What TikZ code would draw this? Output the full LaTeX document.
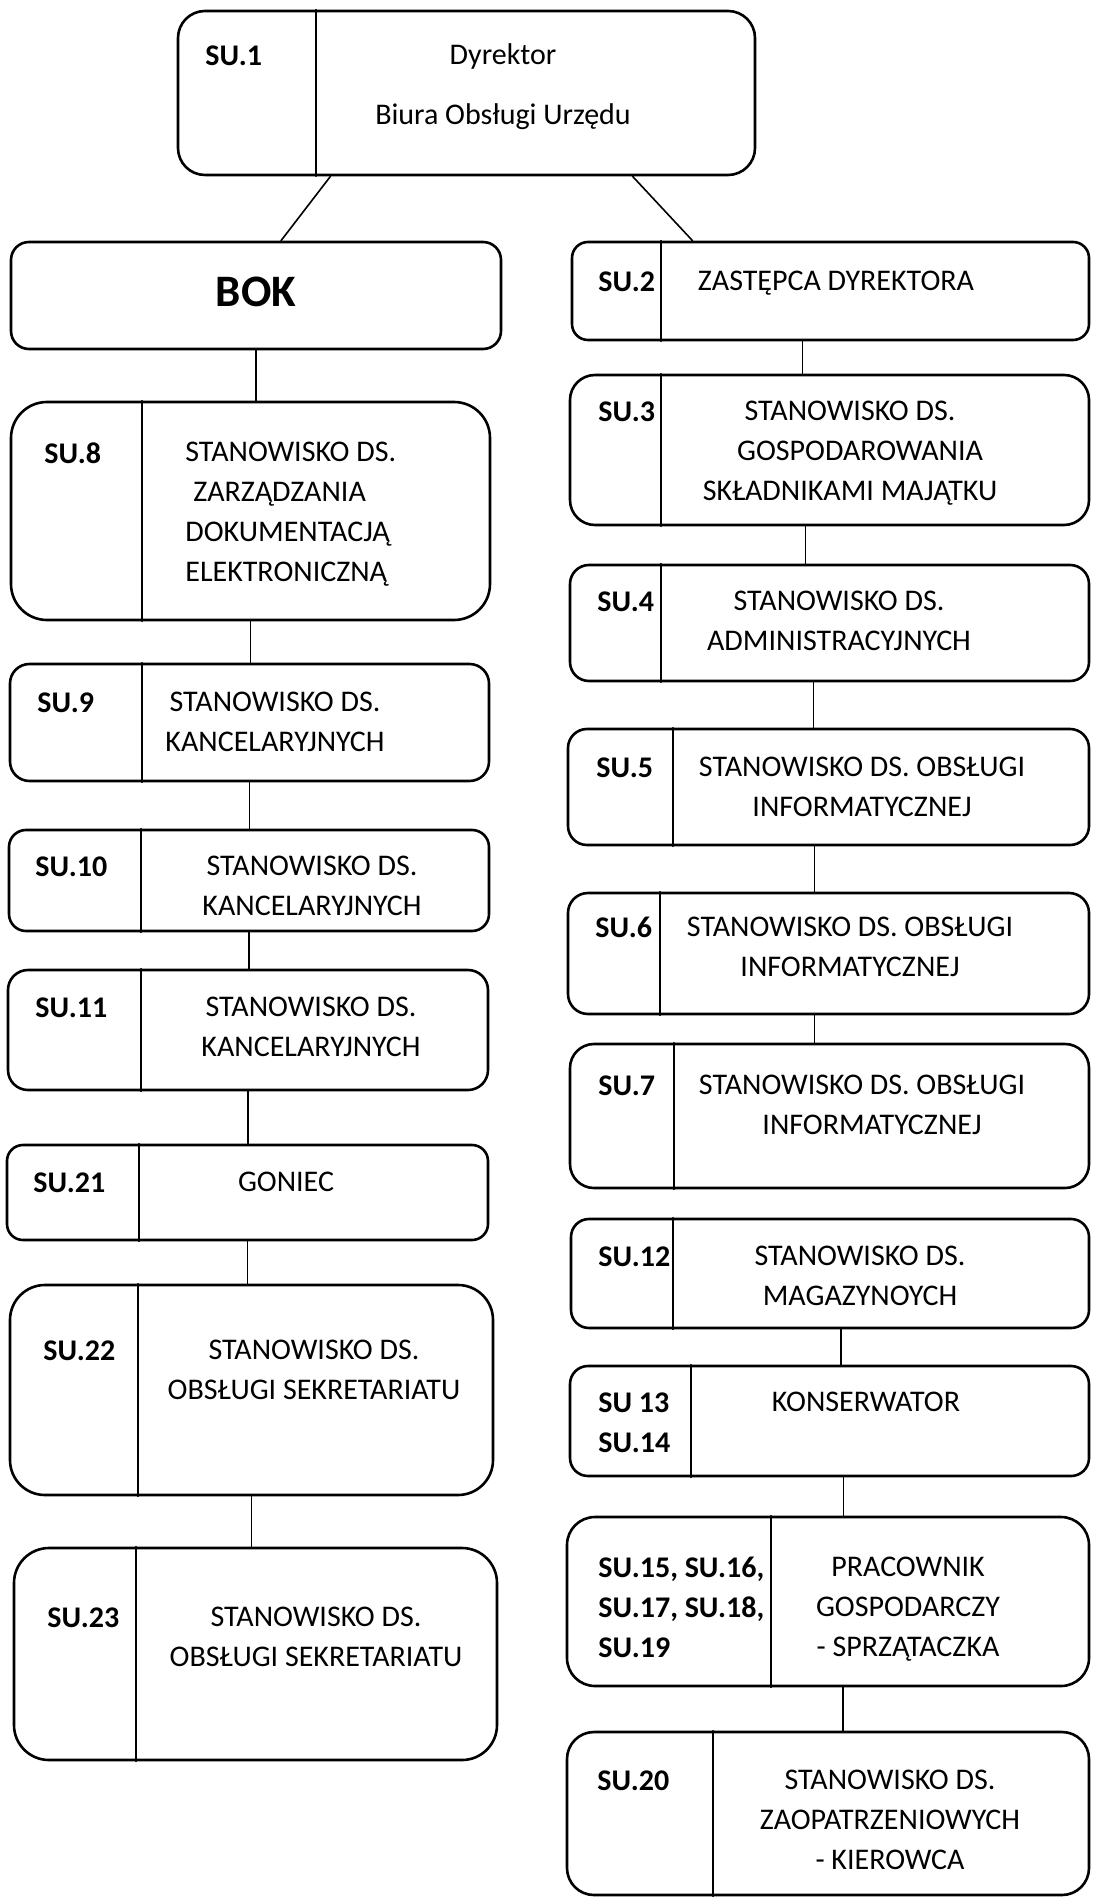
\documentclass[tikz,border=0pt]{standalone}
\usepackage{fontspec}
\setmainfont{Carlito}
\usetikzlibrary{fit}

\begin{document}
\begin{tikzpicture}[x=0.5pt, y=-0.5pt, line cap=round, line join=round,
  box/.style={draw, line width=1.3pt, inner sep=0pt},
  divider/.style={line width=0.8pt},
  link/.style={line width=0.8pt},
  lbl/.style={anchor=north west, inner sep=0pt, align=left, font=\bfseries\fontsize{15}{20}\selectfont},
  txt/.style={anchor=north, inner sep=0pt, align=center, font=\fontsize{15}{20}\selectfont}]

  \fill[white] (0,0) rectangle (1093,1898);
  \useasboundingbox (0,0) rectangle (1093,1898);

  %--- director ------------------------------------------------------------
  \node[box, rounded corners=13.5pt, fit={(178,11) (755,175)}] (su1) {};
  \draw[divider] ([xshift=69.5pt]su1.north west) -- ([xshift=69.5pt]su1.south west);
  \node[lbl] (su1l) at (205,45) {SU.1};
  \node[txt, font=\fontsize{15}{30}\selectfont] (su1t) at (503,43) {Dyrektor\\Biura Obsługi Urzędu};

  %--- left column ---------------------------------------------------------
  \node[box, rounded corners=9pt, fit={(11,242) (501,349)}] (bok) {};
  \node[inner sep=0pt, font=\bfseries\fontsize{22.5}{27}\selectfont] (bokt) at (256,292) {BOK};

  \node[box, rounded corners=18pt, fit={(11,402) (490,620)}] (su8) {};
  \draw[divider] ([xshift=66pt]su8.north west) -- ([xshift=66pt]su8.south west);
  \node[lbl] (su8l) at (44,442) {SU.8};
  \node[txt, anchor=north west, align=left] (su8t) at (185,442)
    {STANOWISKO DS.\\\hspace*{4pt}ZARZĄDZANIA\\DOKUMENTACJĄ\\ELEKTRONICZNĄ};

  \node[box, rounded corners=9.75pt, fit={(10,664) (489,781)}] (su9) {};
  \draw[divider] ([xshift=66.5pt]su9.north west) -- ([xshift=66.5pt]su9.south west);
  \node[lbl] (su9l) at (37,692) {SU.9};
  \node[txt] (su9t) at (275,692) {STANOWISKO DS.\\KANCELARYJNYCH};

  \node[box, rounded corners=8.5pt, fit={(9,830) (489,931)}] (su10) {};
  \draw[divider] ([xshift=66.5pt]su10.north west) -- ([xshift=66.5pt]su10.south west);
  \node[lbl] (su10l) at (35,856) {SU.10};
  \node[txt] (su10t) at (312,856) {STANOWISKO DS.\\KANCELARYJNYCH};

  \node[box, rounded corners=10pt, fit={(8,970) (488,1090)}] (su11) {};
  \draw[divider] ([xshift=67pt]su11.north west) -- ([xshift=67pt]su11.south west);
  \node[lbl] (su11l) at (35,997) {SU.11};
  \node[txt] (su11t) at (311,997) {STANOWISKO DS.\\KANCELARYJNYCH};

  \node[box, rounded corners=8pt, fit={(7,1145) (488,1240)}] (su21) {};
  \draw[divider] ([xshift=66.5pt]su21.north west) -- ([xshift=66.5pt]su21.south west);
  \node[lbl] (su21l) at (33,1172) {SU.21};
  \node[txt] (su21t) at (286,1172) {GONIEC};

  \node[box, rounded corners=17.5pt, fit={(10,1285) (493,1495)}] (su22) {};
  \draw[divider] ([xshift=64.5pt]su22.north west) -- ([xshift=64.5pt]su22.south west);
  \node[lbl] (su22l) at (43,1340) {SU.22};
  \node[txt] (su22t) at (314,1340) {STANOWISKO DS.\\OBSŁUGI SEKRETARIATU};

  \node[box, rounded corners=17.5pt, fit={(14,1548) (497,1760)}] (su23) {};
  \draw[divider] ([xshift=61.5pt]su23.north west) -- ([xshift=61.5pt]su23.south west);
  \node[lbl] (su23l) at (47,1607) {SU.23};
  \node[txt] (su23t) at (316,1607) {STANOWISKO DS.\\OBSŁUGI SEKRETARIATU};

  %--- right column --------------------------------------------------------
  \node[box, rounded corners=8pt, fit={(572,242) (1089,340)}] (su2) {};
  \draw[divider] ([xshift=45pt]su2.north west) -- ([xshift=45pt]su2.south west);
  \node[lbl] (su2l) at (598,271) {SU.2};
  \node[txt] (su2t) at (836,271) {ZASTĘPCA DYREKTORA};

  \node[box, rounded corners=12.5pt, fit={(570,375) (1089,525)}] (su3) {};
  \draw[divider] ([xshift=46pt]su3.north west) -- ([xshift=46pt]su3.south west);
  \node[lbl] (su3l) at (598,401) {SU.3};
  \node[txt] (su3t) at (850,401) {STANOWISKO DS.\\\hspace*{10pt}GOSPODAROWANIA\\SKŁADNIKAMI MAJĄTKU};

  \node[box, rounded corners=9.5pt, fit={(570,565) (1089,681)}] (su4) {};
  \draw[divider] ([xshift=46pt]su4.north west) -- ([xshift=46pt]su4.south west);
  \node[lbl] (su4l) at (597,591) {SU.4};
  \node[txt] (su4t) at (839,591) {STANOWISKO DS.\\ADMINISTRACYJNYCH};

  \node[box, rounded corners=9.5pt, fit={(568,729) (1089,845)}] (su5) {};
  \draw[divider] ([xshift=53pt]su5.north west) -- ([xshift=53pt]su5.south west);
  \node[lbl] (su5l) at (596,757) {SU.5};
  \node[txt] (su5t) at (862,757) {STANOWISKO DS. OBSŁUGI\\INFORMATYCZNEJ};

  \node[box, rounded corners=10pt, fit={(568,893) (1089,1014)}] (su6) {};
  \draw[divider] ([xshift=46.5pt]su6.north west) -- ([xshift=46.5pt]su6.south west);
  \node[lbl] (su6l) at (595,917) {SU.6};
  \node[txt] (su6t) at (850,917) {STANOWISKO DS. OBSŁUGI\\INFORMATYCZNEJ};

  \node[box, rounded corners=12pt, fit={(570,1044) (1089,1188)}] (su7) {};
  \draw[divider] ([xshift=52.5pt]su7.north west) -- ([xshift=52.5pt]su7.south west);
  \node[lbl] (su7l) at (598,1075) {SU.7};
  \node[txt] (su7t) at (862,1075) {STANOWISKO DS. OBSŁUGI\\\hspace*{10pt}INFORMATYCZNEJ};

  \node[box, rounded corners=9pt, fit={(571,1219) (1089,1328)}] (su12) {};
  \draw[divider] ([xshift=51.5pt]su12.north west) -- ([xshift=51.5pt]su12.south west);
  \node[lbl] (su12l) at (598,1246) {SU.12};
  \node[txt] (su12t) at (860,1246) {STANOWISKO DS.\\MAGAZYNOYCH};

  \node[box, rounded corners=9pt, fit={(570,1366) (1089,1476)}] (su13) {};
  \draw[divider] ([xshift=61pt]su13.north west) -- ([xshift=61pt]su13.south west);
  \node[lbl] (su13l) at (598,1392) {SU 13\\SU.14};
  \node[txt] (su13t) at (866,1392) {KONSERWATOR};

  \node[box, rounded corners=14pt, fit={(567,1517) (1089,1686)}] (su15) {};
  \draw[divider] ([xshift=102.5pt]su15.north west) -- ([xshift=102.5pt]su15.south west);
  \node[lbl] (su15l) at (598,1557) {SU.15, SU.16,\\SU.17, SU.18,\\SU.19};
  \node[txt] (su15t) at (908,1557) {PRACOWNIK\\GOSPODARCZY\\- SPRZĄTACZKA};

  \node[box, rounded corners=13.5pt, fit={(567,1732) (1089,1895)}] (su20) {};
  \draw[divider] ([xshift=73.5pt]su20.north west) -- ([xshift=73.5pt]su20.south west);
  \node[lbl] (su20l) at (597,1770) {SU.20};
  \node[txt] (su20t) at (890,1770) {STANOWISKO DS.\\ZAOPATRZENIOWYCH\\- KIEROWCA};

  %--- links ---------------------------------------------------------------
  \draw[link] ([xshift=-68pt]su1.south) -- ([xshift=12.5pt]bok.north);
  \draw[link] ([xshift=83pt]su1.south) -- ([xshift=-69pt]su2.north);

  \draw[link] (bok.south) -- (bok.south |- su8.north);
  \draw[link] (su8.south) -- (su8.south |- su9.north);
  \draw[link] (su9.south) -- (su9.south |- su10.north);
  \draw[link] (su10.south) -- (su10.south |- su11.north);
  \draw[link] (su11.south) -- (su11.south |- su21.north);
  \draw[link] (su21.south) -- (su21.south |- su22.north);
  \draw[link] (su22.south) -- (su22.south |- su23.north);

  \draw[link] ([xshift=-14pt]su2.south) -- ([xshift=-14pt]su2.south |- su3.north);
  \draw[link] ([xshift=-12pt]su3.south) -- ([xshift=-12pt]su3.south |- su4.north);
  \draw[link] ([xshift=-8pt]su4.south) -- ([xshift=-8pt]su4.south |- su5.north);
  \draw[link] ([xshift=-7pt]su5.south) -- ([xshift=-7pt]su5.south |- su6.north);
  \draw[link] ([xshift=-7pt]su6.south) -- ([xshift=-7pt]su6.south |- su7.north);
  \draw[link] ([xshift=5.5pt]su12.south) -- ([xshift=5.5pt]su12.south |- su13.north);
  \draw[link] ([xshift=7pt]su13.south) -- ([xshift=7pt]su13.south |- su15.north);
  \draw[link] ([xshift=7.5pt]su15.south) -- ([xshift=7.5pt]su15.south |- su20.north);
\end{tikzpicture}
\end{document}
